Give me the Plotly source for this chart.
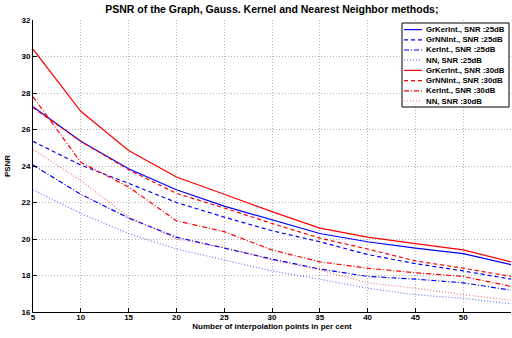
import plotly.graph_objects as go

x_pts = [5, 10, 15, 20, 25, 30, 35, 40, 45, 50, 55]

grker_25 = [27.25, 25.35, 23.85, 22.7, 21.8, 21.05, 20.3, 19.85, 19.5, 19.2, 18.6]
grnn_25 = [25.35, 24.05, 23.05, 22.0, 21.2, 20.45, 19.85, 19.15, 18.65, 18.25, 17.8]
ker_25 = [24.05, 22.45, 21.15, 20.1, 19.5, 18.9, 18.35, 17.95, 17.8, 17.6, 17.2]
nn_25 = [22.7, 21.4, 20.3, 19.45, 18.85, 18.25, 17.8, 17.3, 16.95, 16.75, 16.45]

grker_30 = [30.4, 27.0, 24.85, 23.4, 22.45, 21.5, 20.6, 20.1, 19.75, 19.4, 18.75]
grnn_30 = [27.2, 25.35, 23.8, 22.5, 21.7, 20.85, 20.05, 19.45, 18.8, 18.4, 17.95]
ker_30 = [27.8, 24.2, 22.85, 21.0, 20.4, 19.4, 18.75, 18.4, 18.15, 17.95, 17.4]
nn_30 = [24.9, 23.2, 21.2, 20.0, 19.55, 18.85, 18.3, 17.6, 17.3, 16.95, 16.65]

names = ["GrKerInt., SNR :25dB", "GrNNInt., SNR :25dB", "KerInt., SNR :25dB", "NN, SNR :25dB",
         "GrKerInt., SNR :30dB", "GrNNInt., SNR :30dB", "KerInt., SNR :30dB", "NN, SNR :30dB"]
series = [grker_25, grnn_25, ker_25, nn_25, grker_30, grnn_30, ker_30, nn_30]
colors = ["#0000ff", "#0000ff", "#0000ff", "rgba(0,0,255,0.55)",
          "#ff0000", "#ff0000", "#ff0000", "rgba(255,0,0,0.55)"]
dashes = ["solid", "4px,3px", "5px,2px,1px,2px", "1px,2px"] * 2

FAM = "Liberation Sans, Arial, sans-serif"
font_b = dict(family=FAM, size=8, color="black", weight="bold")

# plot-area pixel frame (for placing the compact legend)
W, H = 512, 338
ML, MR, MT, MB = 33, 1, 20, 26
PL, PR, PT, PB = ML, W - MR, MT, H - MB


def pxx(p):
    return (p - PL) / (PR - PL)


def pxy(p):
    return (PB - p) / (PB - PT)


fig = go.Figure()
for n, s, c, d in zip(names, series, colors, dashes):
    fig.add_trace(go.Scatter(x=x_pts, y=s, mode="lines", name=n, showlegend=False,
                             line=dict(color=c, width=1.2, dash=d)))

# compact MATLAB-style legend
LEG_L, LEG_R, LEG_T, LEG_B = 402, 509, 23, 107
ROW0, ROWH = 29.6, 10.2
shapes = [dict(type="rect", xref="paper", yref="paper", x0=pxx(LEG_L), x1=pxx(LEG_R),
               y0=pxy(LEG_B), y1=pxy(LEG_T), line=dict(color="black", width=1),
               fillcolor="white", layer="above")]
annotations = []
for i, (n, c, d) in enumerate(zip(names, colors, dashes)):
    yy = ROW0 + ROWH * i
    shapes.append(dict(type="line", xref="paper", yref="paper", x0=pxx(404), x1=pxx(422),
                       y0=pxy(yy), y1=pxy(yy), line=dict(color=c, width=1.2, dash=d), layer="above"))
    annotations.append(dict(text=n, xref="paper", yref="paper", x=pxx(424), y=pxy(yy),
                            xanchor="left", yanchor="middle", showarrow=False,
                            font=dict(family=FAM, size=7.8, color="black", weight="bold")))

fig.update_layout(
    width=W, height=H,
    margin=dict(l=ML, r=MR, t=MT, b=MB),
    paper_bgcolor="white", plot_bgcolor="white",
    title=dict(text="PSNR of the Graph, Gauss. Kernel and Nearest Neighbor methods;",
               x=0.531, xanchor="center", y=0.973, yanchor="middle",
               font=dict(family=FAM, size=10.5, color="black", weight="bold")),
    showlegend=False,
    shapes=shapes,
    annotations=annotations,
    font=font_b,
)
fig.update_xaxes(range=[5, 55], dtick=5, tick0=5, showgrid=True, gridcolor="#b4b4b4", griddash="1px,2px",
                 gridwidth=1, showline=True, linecolor="black", linewidth=1, ticks="inside", ticklen=4,
                 tickcolor="black", tickfont=font_b, zeroline=False, automargin=False,
                 ticklabelstandoff=-3,
                 title=dict(text="Number of interpolation points in per cent", font=font_b, standoff=0))
fig.update_yaxes(range=[16, 32], dtick=2, showgrid=True, gridcolor="#b4b4b4", griddash="1px,2px",
                 gridwidth=1, showline=True, linecolor="black", linewidth=1, ticks="inside", ticklen=4,
                 tickcolor="black", tickfont=font_b, zeroline=False, automargin=False,
                 title=dict(text="PSNR", font=font_b, standoff=9))

fig.write_html("out.html", config={"displayModeBar": False},
               post_script="document.body.style.margin='0';")
